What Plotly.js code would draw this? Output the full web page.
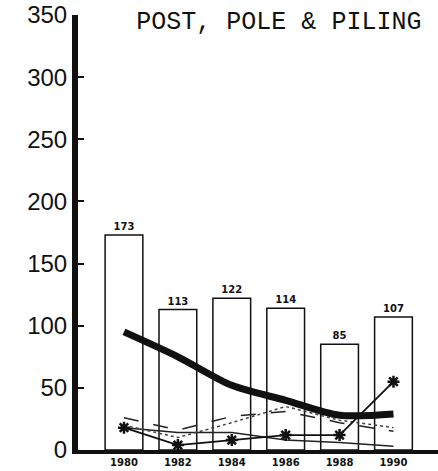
<!DOCTYPE html>
<html>
<head>
<meta charset="utf-8">
<script src="https://cdn.plot.ly/plotly-3.0.1.min.js"></script>
<style>
  html, body { margin: 0; padding: 0; background: #fff; }
  #chart { width: 438px; height: 471px; }
</style>
</head>
<body>
<div id="chart"></div>
<script>
// Data
const years = ["1980", "1982", "1984", "1986", "1988", "1990"];
const totalValues = [173, 113, 122, 114, 85, 107];
const thickLine = [95, 75, 52, 40, 28, 29];
const starLine = [18, 4, 8, 12, 12, 55];
const dashedLine = [26, 16, 27, 31, 22, 15];
const dottedLine = [20, 10, 22, 35, 24, 18];
const thinLine = [18, 14, 14, 8, 6, 3];
const yTicks = [0, 50, 100, 150, 200, 250, 300, 350];
const chartTitle = "POST, POLE &amp; PILING";

const traces = [
  {
    type: "bar", x: years, y: totalValues, width: 0.7,
    marker: { color: "#ffffff", line: { color: "#111", width: 1.5 } },
    texttemplate: "<b>%{y}</b>", textposition: "outside", cliponaxis: false,
    textfont: { family: "DejaVu Sans", size: 10, color: "#111" },
    hoverinfo: "skip"
  },
  {
    type: "scatter", mode: "lines", x: years, y: thinLine,
    line: { color: "#222", width: 1.5 }, hoverinfo: "skip"
  },
  {
    type: "scatter", mode: "lines", x: years, y: dottedLine,
    line: { color: "#444", width: 1.5, dash: "dot" }, hoverinfo: "skip"
  },
  {
    type: "scatter", mode: "lines", x: years, y: dashedLine,
    line: { color: "#222", width: 1.5, dash: "longdash" }, hoverinfo: "skip"
  },
  {
    type: "scatter", mode: "lines+markers", x: years, y: starLine,
    line: { color: "#111", width: 1.8 },
    marker: { symbol: "asterisk-open", size: 10, color: "#111", line: { color: "#111", width: 2.5 } },
    hoverinfo: "skip"
  },
  {
    type: "scatter", mode: "lines", x: years, y: thickLine,
    line: { color: "#111", width: 7, shape: "spline", smoothing: 0.8 }, hoverinfo: "skip"
  }
];

const layout = {
  width: 438, height: 471,
  margin: { l: 78, r: 0, t: 15, b: 21, pad: 0 },
  paper_bgcolor: "#fff", plot_bgcolor: "#fff",
  showlegend: false,
  title: {
    text: chartTitle,
    font: { family: "Liberation Mono", size: 25, color: "#111" },
    x: 0.558, xref: "paper", xanchor: "center",
    y: 1 - 20 / 471, yref: "container", yanchor: "middle"
  },
  xaxis: {
    type: "category",
    range: [-0.853, 5.826],
    showgrid: false, zeroline: false,
    showline: true, linecolor: "#111", linewidth: 4,
    ticks: "",
    tickfont: { family: "DejaVu Sans", size: 10, color: "#111", weight: "bold" },
    fixedrange: true
  },
  yaxis: {
    range: [0, 350],
    tickvals: yTicks,
    showgrid: false, zeroline: false,
    showline: true, linecolor: "#111", linewidth: 6,
    ticks: "inside", ticklen: 6, tickwidth: 2, tickcolor: "#111",
    tickfont: { family: "Liberation Sans", size: 24, color: "#111" },
    fixedrange: true
  }
};

Plotly.newPlot("chart", traces, layout, { staticPlot: true, displayModeBar: false });
</script>
</body>
</html>
